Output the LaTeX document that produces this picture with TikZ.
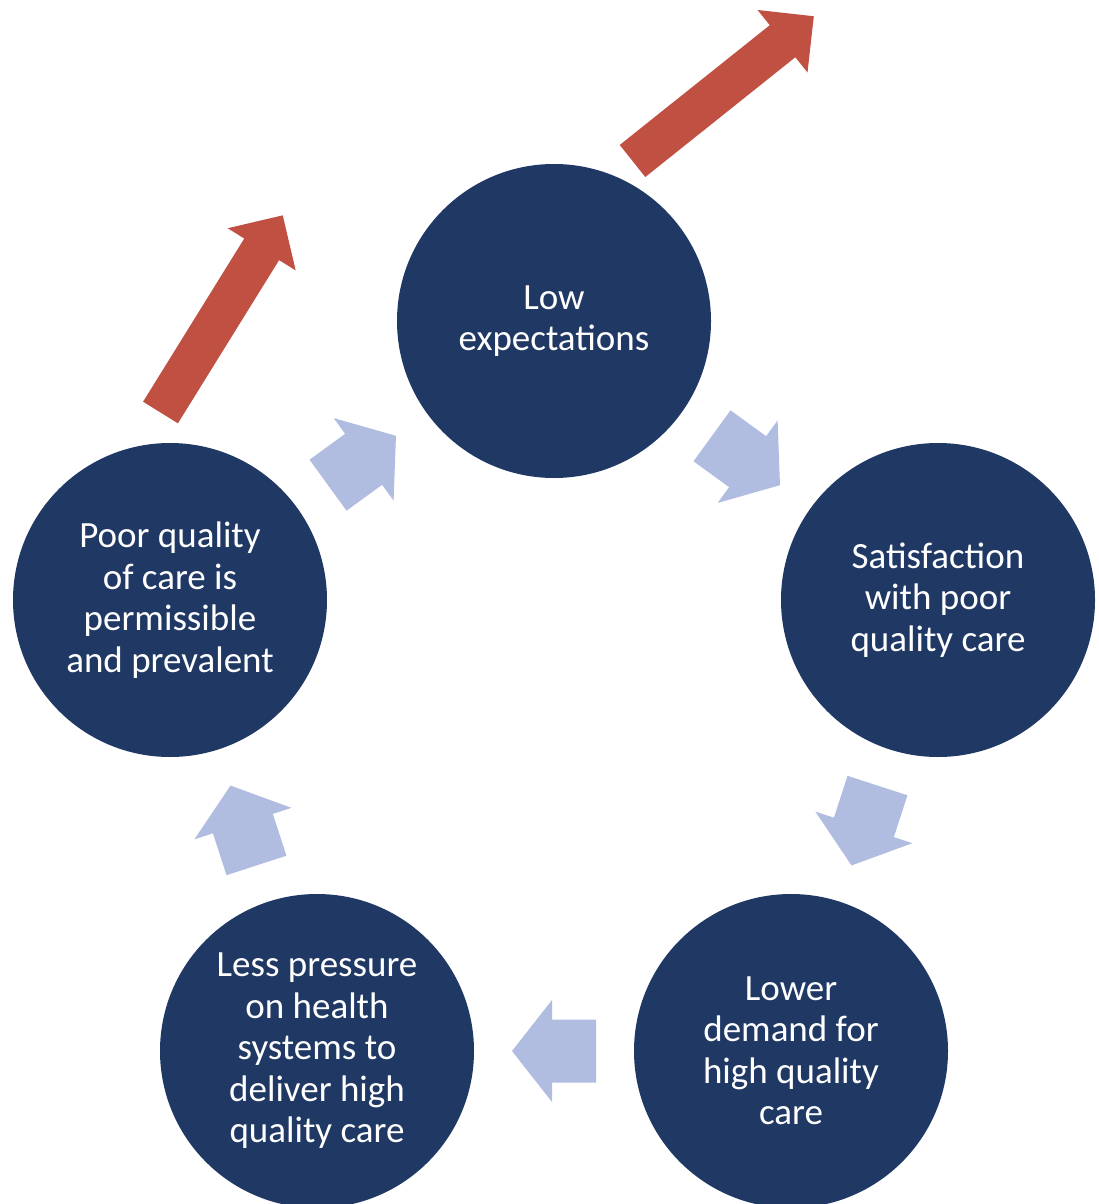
\documentclass[tikz,border=0pt]{standalone}
\usepackage{fontspec}
\setmainfont{Carlito}
\usetikzlibrary{calc}
\definecolor{stagenavy}{RGB}{32,56,100}
\definecolor{cycleblue}{RGB}{176,189,224}
\definecolor{risered}{RGB}{192,80,66}
\tikzset{
    stage/.style={circle, fill=stagenavy, text=white, minimum size=314pt, inner sep=0pt, align=center, font=\fontsize{37}{41.5}\selectfont},
    cyclearrow/.pic={\fill[cycleblue] (-42,-31.5) -- (2,-31.5) -- (2,-51) -- (42,0) -- (2,51) -- (2,31.5) -- (-42,31.5) -- cycle;},
    risearrow/.pic={\fill[risered] (0,-20.5) -- (192,-20.5) -- (192,-40) -- (232,0) -- (192,40) -- (192,20.5) -- (0,20.5) -- cycle;}
}
\begin{document}
\begin{tikzpicture}[x=1pt, y=-1pt]
    \clip (0,0) rectangle (1099,1204);
    
    \node[stage] (low) at (554,321) {Low\\expectations};
    \node[stage] (sat) at (938,600) {Satisfaction\\with poor\\quality care};
    \node[stage] (demand) at (791,1051) {Lower\\demand for\\high quality\\care};
    \node[stage] (pressure) at (317,1051) {Less pressure\\on health\\systems to\\deliver high\\quality care};
    \node[stage] (poor) at (170,600) {Poor quality\\of care is\\permissible\\and prevalent};
    
    % cycle
    \pic[rotate=-36] at ($(low)!.5!(sat)$) {cyclearrow};
    \pic[rotate=-108] at ($(sat)!.5!(demand)$) {cyclearrow};
    \pic[rotate=180] at ($(demand)!.5!(pressure)$) {cyclearrow};
    \pic[rotate=108] at ($(pressure)!.5!(poor)$) {cyclearrow};
    \pic[rotate=36] at ($(poor)!.5!(low)$) {cyclearrow};
    
    \pic[rotate=38.6] at (632.5,161) {risearrow};
    \pic[rotate=58.2] at (160.5,412.5) {risearrow};
\end{tikzpicture}
\end{document}
